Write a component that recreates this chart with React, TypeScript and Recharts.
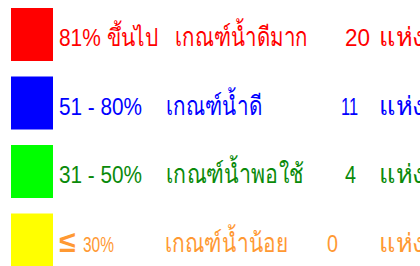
import { Bar, BarChart, XAxis, YAxis } from 'recharts';

const ranges = ['81% ขึ้นไป', '51 - 80%', '31 - 50%', '30%'];
const grades = ['เกณฑ์น้ำดีมาก', 'เกณฑ์น้ำดี', 'เกณฑ์น้ำพอใช้', 'เกณฑ์น้ำน้อย'];
const counts = [20, 11, 4, 0];
const unit = 'แห่ง';

const swatchColors = ['#FF0000', '#0000FF', '#00FF00', '#FFFF00'];
const textColors = ['#FF0000', '#0000FF', '#0A8A0A', '#FF9933'];
// the source lines columns up with spaces, so each row drifts a little
const rangeX = [59, 59, 59, 83];
const rangeW = [99, 83, 83, 31];
const gradeX = [175, 166, 166, 165];
const gradeW = [133, 96, 138, 123];
const countX = [345, 341, 345, 327];
const countW = [25, 17, 11, 11];

const data = ranges.map((r, i) => ({ range: r, grade: grades[i], count: counts[i] }));

const FONT = '"Liberation Sans", Arial, sans-serif';

function Row(props: any) {
  const { x, y, height, index } = props;
  const base = y + height / 2 + 11.5;
  const color = textColors[index];
  const common = { y: base, fill: color, fontFamily: FONT, fontSize: 24, lengthAdjust: 'spacingAndGlyphs' as const };
  const thai = { ...common, fontSize: 26 };
  return (
    <g>
      <rect x={x} y={y} width={42} height={height} fill={swatchColors[index]} />
      {index === 3 && (
        <text x={59} y={base} fill={color} fontFamily={FONT} fontSize={30} fontWeight="bold">
          ≤
        </text>
      )}
      <text x={rangeX[index]} textLength={rangeW[index]} {...common} fontSize={index === 3 ? 22 : 24}>
        {ranges[index]}
      </text>
      <text x={gradeX[index]} textLength={gradeW[index]} {...thai}>
        {grades[index]}
      </text>
      <text x={countX[index]} textLength={countW[index]} {...common}>
        {counts[index]}
      </text>
      <text x={379} textLength={46} {...thai}>
        {unit}
      </text>
    </g>
  );
}

export default function App() {
  return (
    <div style={{ position: 'absolute', left: 0, top: 0, width: 420, height: 266, overflow: 'hidden', background: '#fff' }}>
      <BarChart
        width={420}
        height={274}
        data={data}
        layout="vertical"
        margin={{ top: 0, right: 0, bottom: 0, left: 11 }}
      >
        <XAxis type="number" hide domain={[0, 'dataMax']} />
        <YAxis type="category" dataKey="range" hide />
        <Bar dataKey="count" barSize={53} shape={Row} isAnimationActive={false} />
      </BarChart>
    </div>
  );
}
